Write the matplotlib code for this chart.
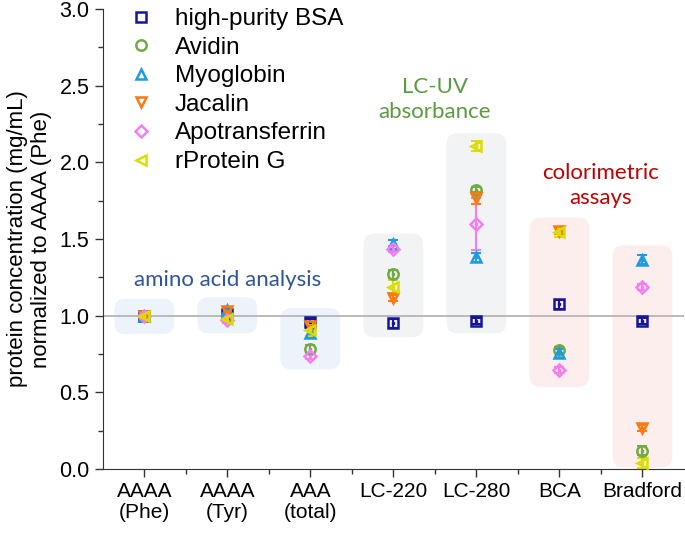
import matplotlib
matplotlib.use("Agg")
import matplotlib.pyplot as plt
import matplotlib.ticker as ticker
from matplotlib.patches import FancyBboxPatch

plt.rcParams['font.family'] = ['Liberation Sans', 'DejaVu Sans']

categories = ["AAAA\n(Phe)", "AAAA\n(Tyr)", "AAA\n(total)", "LC-220", "LC-280", "BCA", "Bradford"]

bsa = [1.00, 1.01, 0.96, 0.95, 0.965, 1.075, 0.965]
avidin = [1.00, 1.00, 0.78, 1.27, 1.82, 0.775, 0.12]
myoglobin = [1.00, 1.04, 0.89, 1.465, 1.38, 0.755, 1.365]
jacalin = [1.00, 1.03, 0.93, 1.115, 1.77, 1.555, 0.265]
apotransferrin = [1.00, 0.97, 0.74, 1.435, 1.60, 0.645, 1.19]
rprotein_g = [1.00, 0.98, 0.905, 1.19, 2.107, 1.545, 0.04]

bsa_err = [0.01, 0.02, 0.02, 0.03, 0.02, 0.03, 0.02]
avidin_err = [0.01, 0.02, 0.03, 0.03, 0.02, 0.02, 0.03]
myoglobin_err = [0.01, 0.02, 0.03, 0.03, 0.03, 0.03, 0.03]
jacalin_err = [0.01, 0.02, 0.02, 0.02, 0.04, 0.02, 0.02]
apotransferrin_err = [0.01, 0.02, 0.02, 0.02, 0.17, 0.02, 0.02]
rprotein_g_err = [0.01, 0.02, 0.04, 0.04, 0.03, 0.03, 0.03]

# shaded group boxes (low / high end)
box_lo = [0.88, 0.885, 0.65, 0.86, 0.885, 0.535, 0.01]
box_hi = [1.11, 1.12, 1.05, 1.535, 2.19, 1.64, 1.46]
box_col = ['#edf3fa', '#edf3fa', '#edf3fa', '#f2f3f5', '#f2f3f5', '#fdeeee', '#fdeeee']

series = [
    ("high-purity BSA", bsa, bsa_err, 's', '#16169a'),
    ("Avidin", avidin, avidin_err, 'o', '#72ab45'),
    ("Myoglobin", myoglobin, myoglobin_err, '^', '#1f9ce0'),
    ("Jacalin", jacalin, jacalin_err, 'v', '#fa7b14'),
    ("Apotransferrin", apotransferrin, apotransferrin_err, 'D', '#f47ef1'),
    ("rProtein G", rprotein_g, rprotein_g_err, '<', '#dcdc00'),
]

fig = plt.figure(figsize=(6.85, 5.33), dpi=100)
ax = fig.add_axes([0.150, 0.120, 0.8485, 0.863])

x = list(range(1, len(categories) + 1))

for xi, lo, hi, c in zip(x, box_lo, box_hi, box_col):
    p = FancyBboxPatch((xi - 0.36, lo), 0.72, hi - lo,
                       boxstyle="round,pad=0,rounding_size=0.13",
                       mutation_aspect=0.54, fc=c, ec='none', zorder=0)
    ax.add_patch(p)

ax.axhline(1.0, color='#b4b4b4', lw=1.3, zorder=1)

handles = []
for name, vals, err, mk, col in series:
    ms = 6.5 if mk == 'D' else 7.5
    ax.errorbar(x, vals, yerr=err, fmt='none', ecolor=col, elinewidth=1.5,
                capsize=3.5, capthick=1.5, zorder=3)
    h, = ax.plot(x, vals, ls='none', marker=mk, ms=ms, mfc='none', mec=col,
                 mew=1.8, zorder=4, label=name)
    ax.plot(x, vals, ls='none', marker='s', ms=1.6, mfc=col, mec=col, zorder=4)
    handles.append(h)

ax.set_xlim(0.5, 7.5)
ax.set_ylim(0, 3.0)
ax.set_xticks(x)
ax.set_xticklabels(categories, fontsize=15, linespacing=1.15)
ax.xaxis.set_minor_locator(ticker.FixedLocator([1.5, 2.5, 3.5, 4.5, 5.5, 6.5]))
ax.yaxis.set_major_locator(ticker.MultipleLocator(0.5))
ax.yaxis.set_minor_locator(ticker.MultipleLocator(0.25))
ax.yaxis.set_major_formatter(ticker.FormatStrFormatter('%.1f'))
ax.tick_params(axis='y', labelsize=15.5)
ax.tick_params(which='major', direction='out', length=6, width=1, color='#333333')
ax.tick_params(which='minor', direction='out', length=3.5, width=1, color='#333333')
for s in ['top', 'right']:
    ax.spines[s].set_visible(False)
for s in ['left', 'bottom']:
    ax.spines[s].set_color('#333333')

ax.set_ylabel("protein concentration (mg/mL)\nnormalized to AAAA (Phe)", fontsize=16,
              linespacing=1.2, labelpad=5)

ax.text(2.0, 1.23, "amino acid analysis", color='#2f5597', fontsize=16,
        family=['Lato', 'DejaVu Sans'], ha='center', va='center')
ax.text(4.5, 2.41, "LC-UV\nabsorbance", color='#5b9a3e', fontsize=16,
        family=['Lato', 'DejaVu Sans'], ha='center', va='center', linespacing=1.3)
ax.text(6.5, 1.85, "colorimetric\nassays", color='#c00000', fontsize=16,
        family=['Lato', 'DejaVu Sans'], ha='center', va='center', linespacing=1.3)

leg = fig.legend(handles=handles, loc='upper left', bbox_to_anchor=(0.175, 1.003),
                 frameon=False, fontsize=17.5, handlelength=0.9, handletextpad=0.95,
                 labelspacing=0.27, borderaxespad=0)

fig.savefig("out.png", dpi=100)
